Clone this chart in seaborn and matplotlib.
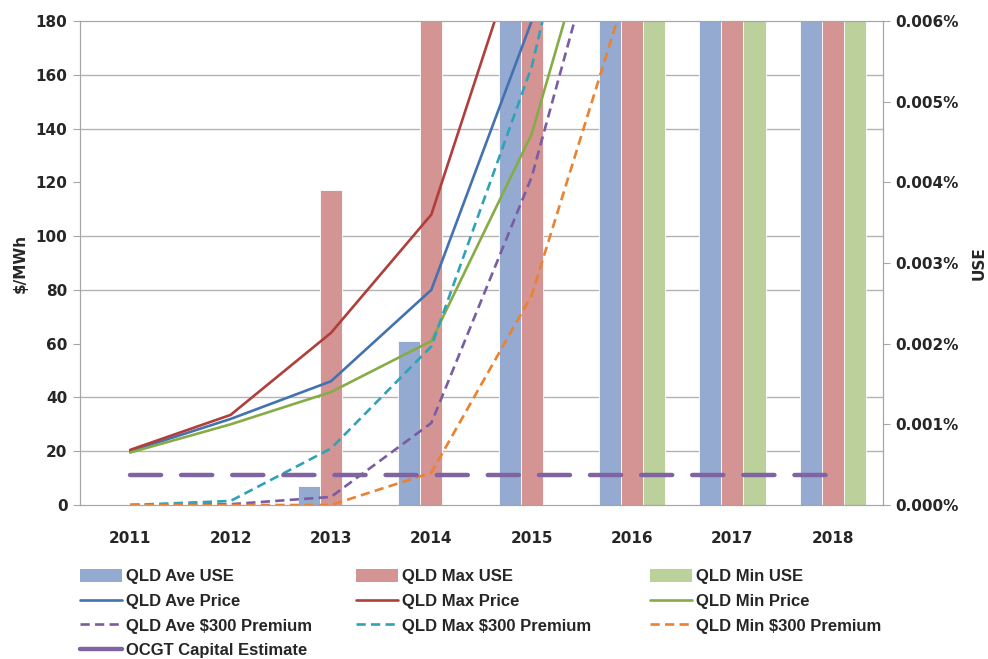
import matplotlib
matplotlib.use("Agg")
import numpy as np
import pandas as pd
import matplotlib.pyplot as plt
import seaborn as sns
from matplotlib.patches import Patch
from matplotlib.lines import Line2D
from matplotlib.ticker import FuncFormatter

# Data (values above the axis top are clipped in the original)
years = ["2011", "2012", "2013", "2014", "2015", "2016", "2017", "2018"]

use_names = ["QLD Ave USE", "QLD Max USE", "QLD Min USE"]
ave_use = [0, 0, 0.00024, 0.00203, 0.0095, 0.021, 0.034, 0.052]
max_use = [0, 0, 0.0039, 0.0072, 0.013, 0.028, 0.045, 0.066]
min_use = [0, 0, 0, 0, 0, 0.0078, 0.016, 0.027]

ave_price = [20, 32, 46, 80, 180, 330, 520, 760]
max_price = [20.5, 33.5, 64, 108, 222, 400, 620, 900]
min_price = [19.5, 30, 42, 61, 138, 267, 430, 640]
ave_premium = [0, 0.3, 3, 30.5, 122, 258, 430, 650]
max_premium = [0, 1.5, 21, 59, 163, 321, 520, 760]
min_premium = [0, 0, 0, 12, 78, 198, 350, 540]
ocgt_estimate = [11, 11, 11, 11, 11, 11, 11, 11]

bar_colors = ["#95AAD1", "#D49494", "#BCD09B"]

sns.set_style("white")
plt.rcParams["font.family"] = ["DejaVu Sans"]
plt.rcParams["font.weight"] = "bold"
plt.rcParams["axes.labelweight"] = "bold"

fig = plt.figure(figsize=(9.88, 6.59), dpi=100)
ax_use = fig.add_axes([80 / 988, 1 - 505 / 659, 803 / 988, 484 / 659])
ax_price = ax_use.twinx()

# USE bars on the right-hand axis
use_df = pd.DataFrame({
    "year": years * 3,
    "use": ave_use + max_use + min_use,
    "series": [n for n in use_names for _ in years],
})
sns.barplot(data=use_df, x="year", y="use", hue="series", order=years,
            hue_order=use_names, palette=bar_colors, width=0.66, gap=0,
            saturation=1, errorbar=None, edgecolor="white", linewidth=0.6,
            legend=False, ax=ax_use)

# price lines on the left-hand axis
pos = np.arange(len(years))
solid = "-"
short_dash = (0, (3.5, 2.0))
long_dash = (0, (7.0, 4.5))
line_specs = [
    ("QLD Ave Price", ave_price, "#4472B0", solid, 1.9),
    ("QLD Max Price", max_price, "#B03E3B", solid, 1.9),
    ("QLD Min Price", min_price, "#86AC45", solid, 1.9),
    ("QLD Ave $300 Premium", ave_premium, "#7A5CA3", short_dash, 1.9),
    ("QLD Max $300 Premium", max_premium, "#2FA2B9", short_dash, 1.9),
    ("QLD Min $300 Premium", min_premium, "#EA822F", short_dash, 1.9),
    ("OCGT Capital Estimate", ocgt_estimate, "#8064A2", long_dash, 3.2),
]
for name, vals, color, ls, lw in line_specs:
    sns.lineplot(x=pos, y=vals, color=color, linestyle=ls, linewidth=lw,
                 ax=ax_price, dash_capstyle="round" if lw > 3 else "butt")

# axes set-up
for ax in (ax_use, ax_price):
    ax.set_xlim(-0.5, len(years) - 0.5)
    for sp in ax.spines.values():
        sp.set_color("#A6A6A6")

ax_price.set_ylim(0, 180)
price_ticks = np.arange(0, 181, 20)
ax_price.set_yticks(price_ticks)
ax_price.yaxis.tick_left()
ax_price.yaxis.set_label_position("left")
ax_price.set_ylabel("$/MWh", fontsize=11, labelpad=6)
ax_price.tick_params(axis="y", length=5, color="#A6A6A6", labelsize=11, pad=4)

ax_use.set_ylim(0, 0.006)
ax_use.set_yticks(np.arange(0, 0.0061, 0.001))
ax_use.yaxis.set_major_formatter(FuncFormatter(lambda v, p: f"{v:.3f}%"))
ax_use.yaxis.tick_right()
ax_use.yaxis.set_label_position("right")
ax_use.set_ylabel("USE", fontsize=11, labelpad=9)
ax_use.tick_params(axis="y", which="major", length=5, color="#A6A6A6",
                   labelsize=11, pad=4)

# horizontal grid follows the price ticks, drawn beneath the bars
ax_use.set_yticks(price_ticks * 0.006 / 180, minor=True)
ax_use.tick_params(axis="y", which="minor", length=0)
ax_use.set_axisbelow(True)
ax_use.grid(False)
ax_use.grid(which="minor", axis="y", color="#B3B3B3", linewidth=1)
ax_price.grid(False)

ax_use.set_xticks(pos, years)
ax_use.set_xticks(np.arange(-0.5, len(years)), minor=True)
ax_use.tick_params(axis="x", which="major", length=0, labelsize=11, pad=19)
ax_use.tick_params(axis="x", which="minor", length=5, color="#A6A6A6")
ax_use.set_xlabel("")

# legend: three columns, filled row by row
bar_handles = [Patch(facecolor=c, edgecolor="none") for c in bar_colors]
line_handles = [Line2D([], [], color=c, linestyle=ls, linewidth=lw)
                for _, _, c, ls, lw in line_specs]
line_handles[6] = Line2D([], [], color=line_specs[6][2], linewidth=3.2,
                         solid_capstyle="round")
line_names = [s[0] for s in line_specs]
columns = [
    ([bar_handles[0], line_handles[0], line_handles[3], line_handles[6]],
     [use_names[0], line_names[0], line_names[3], line_names[6]], 80),
    ([bar_handles[1], line_handles[1], line_handles[4]],
     [use_names[1], line_names[1], line_names[4]], 356),
    ([bar_handles[2], line_handles[2], line_handles[5]],
     [use_names[2], line_names[2], line_names[5]], 650),
]
leg_font = dict(family=["Liberation Sans"], weight="bold", size=12)
for handles, labels, x in columns:
    fig.legend(handles, labels, loc="upper left",
               bbox_to_anchor=(x / 988, 1 - 569 / 659), frameon=False,
               prop=leg_font, handlelength=2.5, handleheight=0.85,
               handletextpad=0.25, labelspacing=0.55, borderpad=0,
               borderaxespad=0)

fig.savefig("out.png", dpi=100)
